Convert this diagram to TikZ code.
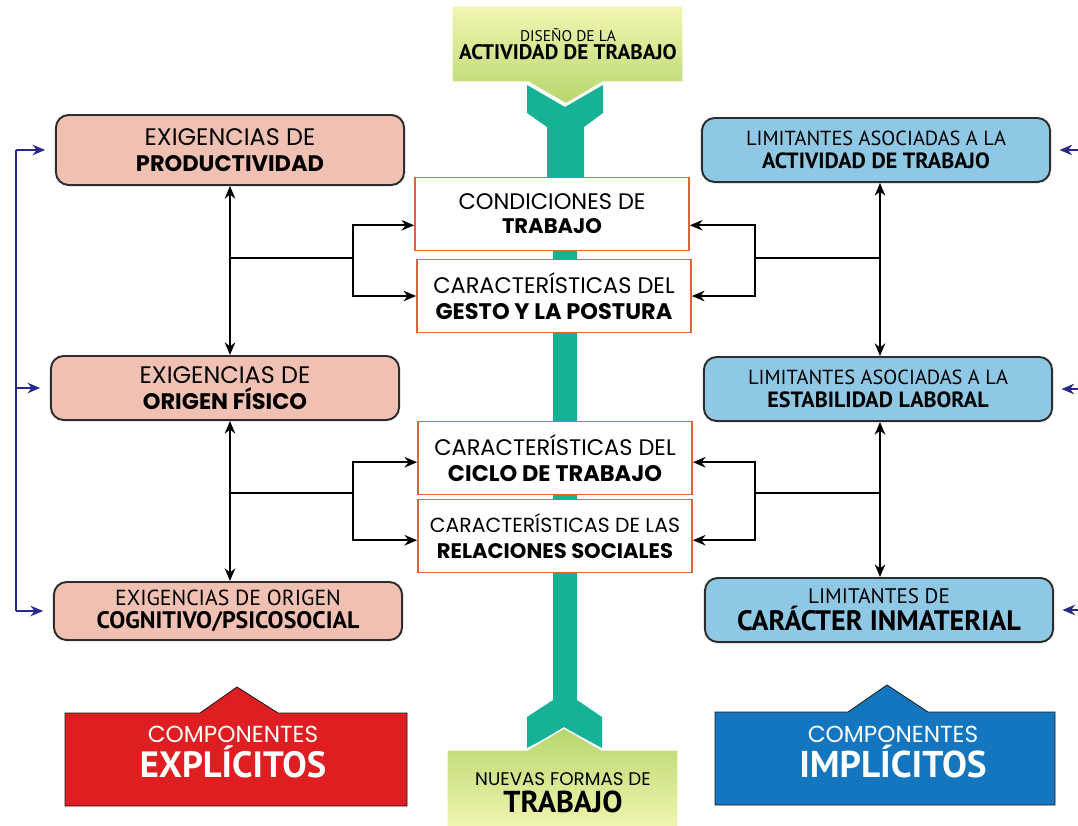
\documentclass[tikz,border=0pt]{standalone}
\usepackage{fontspec}
\setmainfont{PT Sans}
\newfontfamily\geo{Poppins}
\usetikzlibrary{arrows.meta}

\definecolor{salmon}{RGB}{240,193,178}
\definecolor{skyblue}{RGB}{143,200,228}
\definecolor{rust}{RGB}{226,98,58}
\definecolor{boxline}{RGB}{45,45,45}
\definecolor{spine}{RGB}{22,178,150}
\definecolor{paleyellow}{RGB}{242,246,178}
\definecolor{leafgreen}{RGB}{182,214,108}
\definecolor{navy}{RGB}{40,40,140}
\definecolor{redbox}{RGB}{222,30,32}
\definecolor{bluebox}{RGB}{20,118,190}

\tikzset{
  lbox/.style={draw=boxline, line width=1.4pt, rounded corners=9pt, fill=salmon,
    minimum width=8.7cm, minimum height=1.6cm, align=center, inner sep=0pt},
  rbox/.style={lbox, fill=skyblue},
  cbox/.style={draw=rust, line width=1.2pt, fill=white,
    minimum width=6.85cm, minimum height=1.82cm, align=center, inner sep=0pt},
  link/.style={line width=1.3pt, -{Stealth[length=9pt,width=7.5pt]}},
  twoway/.style={line width=1.3pt, {Stealth[length=9pt,width=7.5pt]}-{Stealth[length=9pt,width=7.5pt]}},
  bluelink/.style={navy, line width=1.2pt, -{Stealth[length=9pt,width=7.5pt]}},
  big/.style={draw=boxline!60!black, line width=0.6pt},
}

\begin{document}
\begin{tikzpicture}[x=0.025cm, y=-0.025cm]
  \useasboundingbox (0,0) rectangle (1078,825);

  % teal spine with both ends
  \fill[spine] (527,85) -- (565,107) -- (603,85) -- (603,113) -- (584,127) -- (584,185)
    -- (577,185) -- (577,700) -- (602,717) -- (602,748) -- (565,728) -- (527,748)
    -- (527,717) -- (553,700) -- (553,185) -- (547,185) -- (547,127) -- (527,113) -- cycle;

  % green start and end
  \shade[top color=paleyellow, bottom color=leafgreen, draw=white, line width=1pt]
    (452,6) -- (683,6) -- (683,82) -- (603,82) -- (566,104) -- (528,82) -- (452,82) -- cycle;
  \shade[top color=leafgreen, bottom color=paleyellow, draw=white, line width=1pt]
    (447,750) -- (527,750) -- (564,728) -- (602,750) -- (678,750) -- (678,830) -- (447,830) -- cycle;
  \node[align=center, font=\fontsize{11}{12.5}\selectfont] (start) at (568,44)
    {DISEÑO DE LA\\{\fontsize{15}{12.5}\selectfont\bfseries ACTIVIDAD DE TRABAJO}};
  \node[align=center, font=\fontsize{13}{19}\selectfont] (finish) at (563,793)
    {{\geo NUEVAS FORMAS DE}\\{\fontsize{21.5}{19}\selectfont\bfseries TRABAJO}};

  % explicit side
  \node[lbox, minimum height=1.75cm, font=\geo\fontsize{17}{18}\selectfont] (L1) at (230,150)
    {EXIGENCIAS DE\\{\fontsize{16}{18}\selectfont\bfseries PRODUCTIVIDAD}};
  \node[lbox, font=\geo\fontsize{17}{18}\selectfont] (L2) at (225,388)
    {EXIGENCIAS DE\\{\fontsize{16}{18}\selectfont\bfseries ORIGEN FÍSICO}};
  \node[lbox, minimum height=1.45cm, font=\fontsize{15.5}{16}\selectfont] (L3) at (228,611)
    {EXIGENCIAS DE ORIGEN\\{\fontsize{17}{16}\selectfont\bfseries COGNITIVO/PSICOSOCIAL}};

  % implicit side
  \node[rbox, font=\fontsize{14.5}{16}\selectfont] (R1) at (876,150)
    {LIMITANTES ASOCIADAS A LA\\{\fontsize{15.7}{16}\selectfont\bfseries ACTIVIDAD DE TRABAJO}};
  \node[rbox, font=\fontsize{14.5}{16}\selectfont] (R2) at (878,389)
    {LIMITANTES ASOCIADAS A LA\\{\fontsize{15.7}{16}\selectfont\bfseries ESTABILIDAD LABORAL}};
  \node[rbox, font=\fontsize{15}{19}\selectfont] (R3) at (879,610)
    {LIMITANTES DE\\{\fontsize{20}{19}\selectfont\bfseries CARÁCTER INMATERIAL}};

  % work conditions
  \node[cbox, font=\geo\fontsize{16}{17}\selectfont] (C1) at (552,214)
    {CONDICIONES DE\\{\fontsize{15}{17}\selectfont\bfseries TRABAJO}};
  \node[cbox, font=\geo\fontsize{16}{19}\selectfont] (C2) at (554,296)
    {CARACTERÍSTICAS DEL\\\textbf{GESTO Y LA POSTURA}};
  \node[cbox, font=\geo\fontsize{16}{19}\selectfont] (C3) at (555,458)
    {CARACTERÍSTICAS DEL\\\textbf{CICLO DE TRABAJO}};
  \node[cbox, font=\geo\fontsize{14.5}{18}\selectfont] (C4) at (555,536)
    {CARACTERÍSTICAS DE LAS\\{\fontsize{15}{18}\selectfont\bfseries RELACIONES SOCIALES}};

  % left links
  \draw[twoway] (L1.south) -- (L1.south |- L2.north);
  \draw[twoway] (L1.south |- L2.south) -- (L1.south |- L3.north);
  \draw[line width=1.3pt] (L1.south |- 0,258) -- ++(123,0) coordinate (ja);
  \draw[line width=1.3pt] (L1.south |- 0,493) -- ++(123,0) coordinate (jb);
  \draw[link] (ja) |- ([yshift=-8pt]C1.west);
  \draw[link] (ja) |- (C2.west);
  \draw[link] (jb) |- ([yshift=-3pt]C3.west);
  \draw[link] (jb) |- ([yshift=-3pt]C4.west);

  % right links
  \draw[twoway] (R2.north -| 880,0) -- (R1.south -| 880,0);
  \draw[twoway] (R3.north -| 880,0) -- (R2.south -| 880,0);
  \draw[line width=1.3pt] (880,258) coordinate (rc) -- ++(-125,0) coordinate (jc);
  \draw[line width=1.3pt] (880,493) coordinate (rd) -- ++(-125,0) coordinate (jd);
  \draw[link] (jc) |- ([yshift=-8pt]C1.east);
  \draw[link] (jc) |- (C2.east);
  \draw[link] (jd) |- ([yshift=-3pt]C3.east);
  \draw[link] (jd) |- ([yshift=-3pt]C4.east);

  % blue feeds
  \coordinate (lbar) at (16,0);
  \coordinate (rbar) at (1078,0);
  \draw[navy, line width=1.2pt] (lbar |- L1.west) -- (lbar |- L3.west);
  \foreach \n in {L1,L2,L3}
    \draw[bluelink, shorten >=7pt] (lbar |- \n.west) -- (\n.west);
  \foreach \n in {R1,R2,R3}
    \draw[bluelink, shorten >=6pt] (rbar |- \n.east) -- (\n.east);

  % components
  \filldraw[fill=redbox, big] (65,713) -- (200,713) -- (237,687) -- (278,713) -- (407,713)
    -- (407,806) -- (65,806) -- cycle;
  \filldraw[fill=bluebox, big] (715,712) -- (848,712) -- (887,685) -- (928,712) -- (1055,712)
    -- (1055,805) -- (715,805) -- cycle;
  \node[white, align=center, font=\fontsize{16.5}{25}\selectfont] (expl) at (233,752)
    {{\geo COMPONENTES}\\{\fontsize{26}{25}\selectfont\bfseries EXPLÍCITOS}};
  \node[white, align=center, font=\fontsize{16.5}{25}\selectfont] (impl) at (893,752)
    {{\geo COMPONENTES}\\{\fontsize{26.5}{25}\selectfont\bfseries IMPLÍCITOS}};
\end{tikzpicture}
\end{document}
